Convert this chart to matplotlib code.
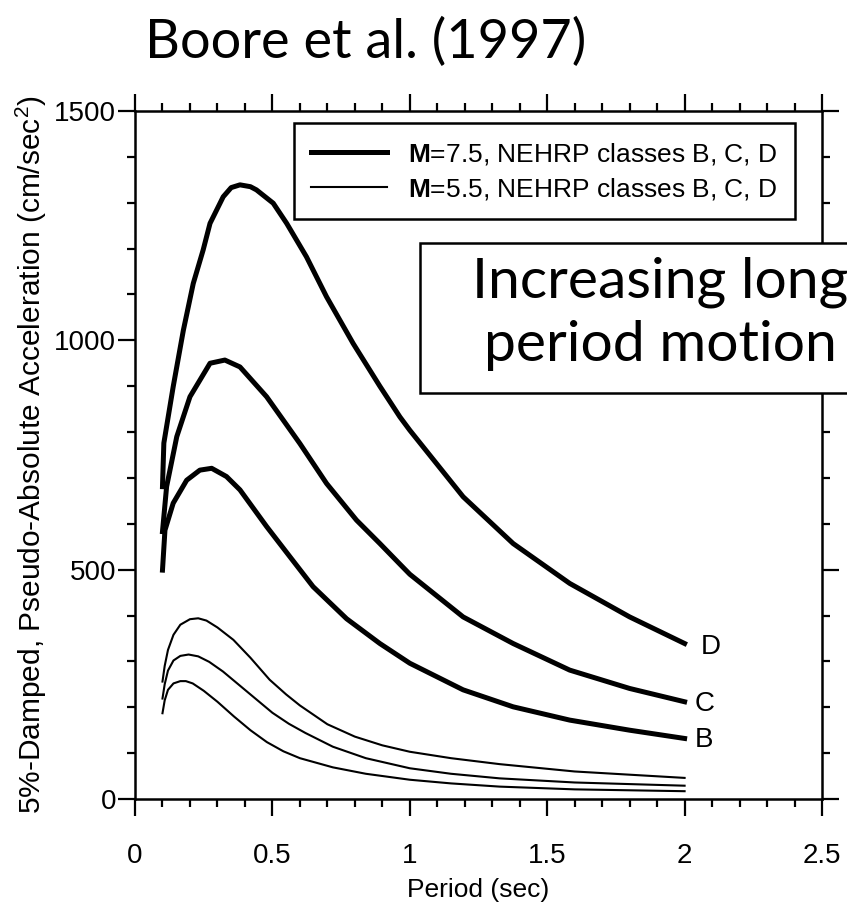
import matplotlib
matplotlib.use("Agg")
import matplotlib.pyplot as plt
from matplotlib.patches import Rectangle
from matplotlib.ticker import MultipleLocator

plt.rcParams['font.family'] = ['Liberation Sans', 'DejaVu Sans']
plt.rcParams['mathtext.fontset'] = 'custom'
plt.rcParams['mathtext.rm'] = 'Liberation Sans'
plt.rcParams['mathtext.bf'] = 'Liberation Sans:bold'

# ---- data ----
period_d75 = [0.100, 0.105, 0.139, 0.176, 0.212, 0.248, 0.273, 0.321, 0.350, 0.382, 0.420, 0.442,
              0.503, 0.552, 0.624, 0.697, 0.794, 0.891, 0.964, 1.000, 1.194, 1.376, 1.582, 1.800, 2.000]
psa_d75 = [681, 776, 899, 1022, 1124, 1197, 1255, 1313, 1333, 1339, 1335, 1328,
           1299, 1255, 1182, 1095, 993, 900, 833, 804, 659, 557, 470, 397, 339]

period_c75 = [0.100, 0.115, 0.152, 0.200, 0.273, 0.327, 0.382, 0.479, 0.600, 0.697, 0.806, 0.891,
              0.964, 1.000, 1.194, 1.376, 1.582, 1.800, 2.000]
psa_c75 = [583, 681, 790, 877, 950, 957, 942, 877, 775, 688, 608, 557,
           512, 490, 397, 339, 281, 241, 212]

period_b75 = [0.100, 0.109, 0.139, 0.188, 0.236, 0.279, 0.333, 0.382, 0.479, 0.564, 0.648, 0.770,
              0.891, 1.000, 1.194, 1.376, 1.582, 1.800, 2.000]
psa_b75 = [499, 586, 645, 695, 717, 721, 703, 674, 594, 528, 463, 393,
           339, 296, 238, 201, 172, 150, 132]

period_d55 = [0.100, 0.108, 0.120, 0.140, 0.165, 0.200, 0.230, 0.260, 0.300, 0.358, 0.420, 0.490,
              0.550, 0.600, 0.700, 0.800, 0.900, 1.000, 1.150, 1.327, 1.600, 2.000]
psa_d55 = [256, 290, 325, 358, 380, 392, 394, 389, 374, 347, 308, 260,
           228, 204, 163, 136, 117, 103, 89, 76, 60, 46]

period_c55 = [0.100, 0.108, 0.120, 0.140, 0.165, 0.195, 0.230, 0.270, 0.320, 0.380, 0.440, 0.500,
              0.560, 0.620, 0.720, 0.840, 1.000, 1.150, 1.327, 1.600, 2.000]
psa_c55 = [219, 250, 280, 302, 312, 315, 311, 299, 278, 248, 218, 188,
           164, 144, 114, 89, 67, 55, 45, 36, 29]

period_b55 = [0.100, 0.108, 0.120, 0.140, 0.165, 0.185, 0.210, 0.250, 0.300, 0.360, 0.420, 0.480,
              0.540, 0.600, 0.720, 0.840, 1.000, 1.150, 1.327, 1.600, 2.000]
psa_b55 = [187, 215, 238, 252, 257, 257, 252, 236, 212, 180, 150, 124,
           104, 89, 69, 55, 42, 34, 27, 21, 17]

site_labels = ['D', 'C', 'B']
site_label_x = [2.095, 2.073, 2.070]
site_label_y = [332, 207, 129]

legend_labels = [r'$\mathbf{M}$=7.5, NEHRP classes B, C, D',
                 r'$\mathbf{M}$=5.5, NEHRP classes B, C, D']

xticks = [0, 0.5, 1, 1.5, 2, 2.5]
xticklabels = ['0', '0.5', '1', '1.5', '2', '2.5']
yticks = [0, 500, 1000, 1500]
yticklabels = ['0', '500', '1000', '1500']

title_text = 'Boore et al. (1997)'
box_lines = ['Increasing long', 'period motion']
xlabel_text = 'Period (sec)'
ylabel_text = '5%-Damped, Pseudo-Absolute Acceleration (cm/sec$^2$)'

# ---- figure ----
W, H = 847, 909
fig = plt.figure(figsize=(W / 100, H / 100), dpi=100)
ax = fig.add_axes([135 / W, 1 - 799 / H, 687 / W, 688 / H])

thick = 3.6
thin = 1.5
l1, = ax.plot(period_d75, psa_d75, color='black', lw=thick, solid_joinstyle='round')
ax.plot(period_c75, psa_c75, color='black', lw=thick, solid_joinstyle='round')
ax.plot(period_b75, psa_b75, color='black', lw=thick, solid_joinstyle='round')
l2, = ax.plot(period_d55, psa_d55, color='black', lw=thin, solid_joinstyle='round')
ax.plot(period_c55, psa_c55, color='black', lw=thin, solid_joinstyle='round')
ax.plot(period_b55, psa_b55, color='black', lw=thin, solid_joinstyle='round')

for lab, lx, ly in zip(site_labels, site_label_x, site_label_y):
    ax.text(lx, ly, lab, fontsize=20, ha='center', va='center')

ax.set_xlim(0, 2.5)
ax.set_ylim(0, 1500)
ax.set_xticks(xticks)
ax.set_xticklabels(xticklabels)
ax.set_yticks(yticks)
ax.set_yticklabels(yticklabels)
ax.xaxis.set_minor_locator(MultipleLocator(0.1))
ax.yaxis.set_minor_locator(MultipleLocator(100))
ax.tick_params(which='both', direction='out', top=True, right=True, width=1.6, labelsize=20)
ax.tick_params(which='major', length=12)
ax.tick_params(which='minor', length=6)
ax.tick_params(axis='x', which='major', pad=20)
ax.tick_params(axis='y', which='major', pad=1.5)
for s in ax.spines.values():
    s.set_linewidth(1.8)

ax.set_xlabel(xlabel_text, fontsize=19, labelpad=6)
ax.set_ylabel(ylabel_text, fontsize=21.5, labelpad=4)

leg = ax.legend([l1, l2], legend_labels, loc='upper left', bbox_to_anchor=(0.231, 0.982),
                fontsize=19, frameon=True, fancybox=False, edgecolor='black', framealpha=1,
                handlelength=2.9, handletextpad=0.8, borderpad=0.65, labelspacing=0.35,
                borderaxespad=0)
leg.get_frame().set_linewidth(1.8)

# annotation box (clipped by the figure edge)
fig.patches.append(Rectangle((419.5 / W, 1 - 393.3 / H), 500 / W, 150 / H,
                             transform=fig.transFigure, facecolor='white',
                             edgecolor='black', lw=1.8, zorder=10))
for line, base_py in zip(box_lines, [297, 361]):
    fig.text(660 / W, 1 - base_py / H, line, fontsize=41, ha='center', va='baseline',
             family=['Lato', 'DejaVu Sans'], zorder=11)

fig.text(366 / W, 1 - 58 / H, title_text, fontsize=39, ha='center', va='baseline',
         family=['Lato', 'DejaVu Sans'])

fig.savefig('out.png', dpi=100)
